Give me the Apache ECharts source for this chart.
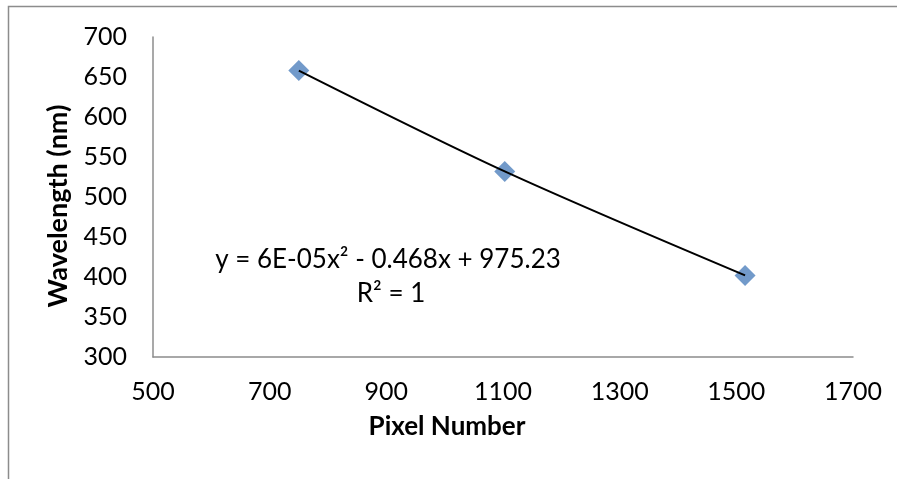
<!DOCTYPE html>
<html lang="en">
<head>
  <meta charset="UTF-8">
  <title>Wavelength vs Pixel Number</title>
  <style>
    html, body { margin: 0; padding: 0; background: #fff; }
    .chart { width: 897px; height: 479px; }
  </style>
</head>
<body>
  <div class="chart"></div>
  <script src="https://cdn.jsdelivr.net/npm/echarts@6/dist/echarts.min.js"></script>
  <script>
    // calibration points
    const pixels = [750, 1103, 1515];
    const wavelengths = [658, 532, 402];
    const xTicks = [500, 700, 900, 1100, 1300, 1500, 1700];
    const yTicks = [300, 350, 400, 450, 500, 550, 600, 650, 700];
    const equationText = 'y = 6E-05x\u00B2 - 0.468x + 975.23';
    const rSquaredText = 'R\u00B2 = 1';

    window.onload = function () {
      let oChart = document.querySelector('.chart');
      let myChart = echarts.init(oChart);

      let points = pixels.map((p, i) => [p, wavelengths[i]]);
      let font = 'Lato, "Open Sans", sans-serif';

      let option = {
        animation: false,
        grid: { left: 153, right: 44, top: 37, bottom: 122 },
        xAxis: {
          type: 'value',
          min: xTicks[0],
          max: xTicks[xTicks.length - 1],
          interval: 200,
          axisLine: { show: true, lineStyle: { color: '#8c8c8c', width: 1.5 } },
          axisTick: { show: false },
          splitLine: { show: false },
          axisLabel: {
            color: '#000', fontFamily: font, fontSize: 25, margin: 22,
            formatter: v => String(v)
          }
        },
        yAxis: {
          type: 'value',
          min: yTicks[0],
          max: yTicks[yTicks.length - 1],
          interval: 50,
          axisLine: { show: true, lineStyle: { color: '#8c8c8c', width: 1.5 } },
          axisTick: { show: false },
          splitLine: { show: false },
          axisLabel: {
            color: '#000', fontFamily: font, fontSize: 25, margin: 26,
            formatter: v => String(v)
          }
        },
        graphic: [
          {
            type: 'rect',
            shape: { x: 8.5, y: 6.5, width: 1000, height: 1000 },
            style: { fill: 'none', stroke: '#8c8c8c', lineWidth: 1.5 },
            silent: true
          },
          {
            type: 'text',
            x: 447, y: 427,
            style: {
              text: 'Pixel Number', fill: '#000', font: 'bold 26px ' + font,
              textAlign: 'center', textVerticalAlign: 'middle'
            }
          },
          {
            type: 'text',
            x: 58, y: 206, rotation: Math.PI / 2,
            style: {
              text: 'Wavelength (nm)', fill: '#000', font: 'bold 27px ' + font,
              textAlign: 'center', textVerticalAlign: 'middle'
            }
          },
          {
            type: 'text',
            x: 388, y: 260,
            style: {
              text: equationText, fill: '#000', font: '26px ' + font,
              textAlign: 'center', textVerticalAlign: 'middle'
            }
          },
          {
            type: 'text',
            x: 391, y: 294,
            style: {
              text: rSquaredText, fill: '#000', font: '26px ' + font,
              textAlign: 'center', textVerticalAlign: 'middle'
            }
          }
        ],
        series: [
          {
            name: 'data',
            type: 'scatter',
            symbol: 'diamond',
            symbolSize: 21,
            itemStyle: { color: '#4f81bd' },
            data: points,
            z: 2
          },
          {
            name: 'trend',
            type: 'line',
            smooth: 0.3,
            showSymbol: false,
            lineStyle: { color: '#000', width: 2 },
            data: points,
            z: 3
          }
        ]
      };
      myChart.setOption(option);
    };
  </script>
</body>
</html>
